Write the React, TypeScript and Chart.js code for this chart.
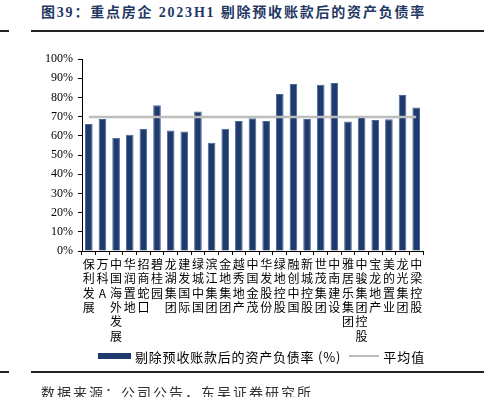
import React, { useEffect, useRef } from "react";
import { Chart, registerables } from "chart.js";

Chart.register(...registerables);

const categories: string[] = [
  "保利发展", "万科A", "中国海外发展", "华润置地", "招商蛇口", "碧桂园", "龙湖集团",
  "建发国际", "绿城中国", "滨江集团", "金地集团", "越秀地产", "中国金茂", "华发股份",
  "绿地控股", "融创中国", "新城控股", "世茂集团", "中南建设", "雅居乐集团", "中骏集团控股",
  "宝龙地产", "美的置业", "龙光集团", "中梁控股",
];

const debtRatio: number[] = [
  66.1, 68.7, 59.0, 60.6, 63.5, 75.9, 62.7, 62.2, 72.7, 56.4, 63.7, 67.7, 69.1,
  67.7, 81.8, 87.0, 68.7, 86.6, 87.5, 67.4, 69.8, 68.2, 68.6, 81.3, 74.8,
];

const averageValue = 69.8;

const yTicks: number[] = [0, 10, 20, 30, 40, 50, 60, 70, 80, 90, 100];

const barLabel = "剔除预收账款后的资产负债率 (%)";
const lineLabel = "平均值";
const titleText = "图39：重点房企 2023H1 剔除预收账款后的资产负债率";
const sourceText = "数据来源：公司公告，东吴证券研究所";

const BAR_COLOR = "#1f3a6c";
const BAR_BORDER = "#4a6799";
const LINE_COLOR = "#bdbdbd";

export default function App() {
  const canvasRef = useRef<HTMLCanvasElement | null>(null);

  useEffect(() => {
    if (!canvasRef.current) return;
    const chart = new Chart(canvasRef.current, {
      type: "bar",
      data: {
        labels: categories.map((s) => Array.from(s)),
        datasets: [
          {
            type: "line",
            label: lineLabel,
            data: categories.map(() => averageValue),
            borderColor: LINE_COLOR,
            borderWidth: 2.5,
            pointRadius: 0,
            fill: false,
            order: 0,
          } as any,
          {
            type: "bar",
            label: barLabel,
            data: debtRatio,
            backgroundColor: BAR_COLOR,
            borderColor: BAR_BORDER,
            borderWidth: 1,
            barPercentage: 0.56,
            categoryPercentage: 1,
            order: 1,
          },
        ],
      },
      options: {
        responsive: false,
        animation: false,
        devicePixelRatio: 1,
        layout: { padding: { left: 0, right: 61, top: 59, bottom: 46 } },
        plugins: {
          legend: { display: false },
          tooltip: { enabled: false },
        },
        scales: {
          x: {
            offset: true,
            grid: {
              display: true,
              drawOnChartArea: false,
              drawTicks: true,
              tickLength: 4,
              color: "#000",
              offset: true,
            },
            border: { display: true, color: "#000", width: 1 },
            ticks: {
              autoSkip: false,
              maxRotation: 0,
              minRotation: 0,
              padding: 2,
              color: "#000",
              font: { family: "'Noto Sans CJK SC', 'Liberation Serif', serif", size: 12, lineHeight: 1.2 },
            },
            afterFit: (scale: any) => {
              scale.height = 100;
            },
          },
          y: {
            min: 0,
            max: 100,
            afterBuildTicks: (scale: any) => {
              scale.ticks = yTicks.map((v) => ({ value: v }));
            },
            grid: {
              display: true,
              drawOnChartArea: false,
              drawTicks: true,
              tickLength: 4,
              color: "#000",
            },
            border: { display: true, color: "#000", width: 1 },
            ticks: {
              padding: 5,
              color: "#000",
              callback: (v: any) => `${v}%`,
              font: { family: "'Liberation Serif', serif", size: 12 },
            },
            afterFit: (scale: any) => {
              scale.width = 82;
            },
          },
        },
      },
    });
    return () => chart.destroy();
  }, []);

  const rule = (top: number) => (
    <>
      <div style={{ position: "absolute", left: 0, top, width: 9, height: 2, background: "#222" }} />
      <div style={{ position: "absolute", left: 31, top, width: 453, height: 2, background: "#222" }} />
    </>
  );

  return (
    <div
      style={{
        position: "fixed",
        left: 0,
        top: 0,
        width: 484,
        height: 397,
        background: "#fff",
        overflow: "hidden",
      }}
    >
      <div
        style={{
          position: "absolute",
          left: 41,
          top: 4,
          whiteSpace: "nowrap",
          fontFamily: "'Liberation Serif', 'Noto Sans CJK SC', serif",
          fontWeight: "bold",
          fontSize: 14,
          letterSpacing: 1.8,
          color: "#1f3864",
          lineHeight: "18px",
        }}
      >
        {titleText}
      </div>
      {rule(30)}
      <canvas
        ref={canvasRef}
        width={484}
        height={397}
        style={{ position: "absolute", left: 0, top: 0, width: 484, height: 397 }}
      />
      <div
        style={{
          position: "absolute",
          left: 98,
          top: 347,
          height: 18,
          display: "flex",
          alignItems: "center",
          whiteSpace: "nowrap",
          fontFamily: "'Noto Sans CJK SC', 'Liberation Serif', serif",
          fontSize: 13,
          color: "#000",
        }}
      >
        <span style={{ display: "inline-block", width: 33, height: 6, background: BAR_COLOR, marginRight: 4 }} />
        <span style={{ letterSpacing: 0.8 }}>{barLabel}</span>
        <span style={{ display: "inline-block", width: 30, height: 2, background: LINE_COLOR, marginLeft: 8, marginRight: 4 }} />
        <span style={{ letterSpacing: 1 }}>{lineLabel}</span>
      </div>
      {rule(371)}
      <div
        style={{
          position: "absolute",
          left: 41,
          top: 383,
          whiteSpace: "nowrap",
          fontFamily: "'Noto Sans CJK SC', 'Liberation Serif', serif",
          fontSize: 14,
          letterSpacing: 2,
          color: "#333",
          lineHeight: "18px",
        }}
      >
        {sourceText}
      </div>
    </div>
  );
}
